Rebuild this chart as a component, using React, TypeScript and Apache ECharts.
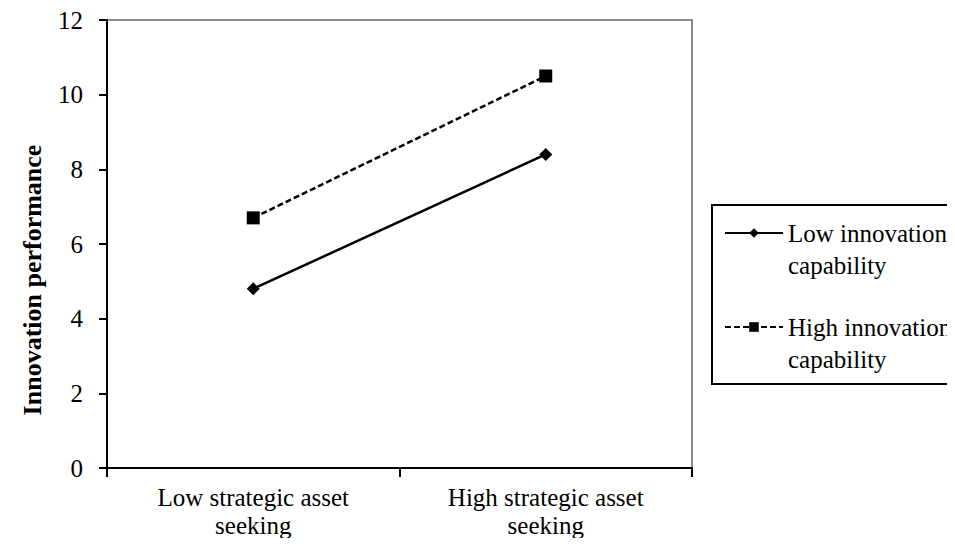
import React, { useEffect, useRef } from "react";
import * as echarts from "echarts";

const categories = ["Low strategic asset\nseeking", "High strategic asset\nseeking"];
const lowCapability = [4.8, 8.4];
const highCapability = [6.7, 10.5];
const seriesNames = ["Low innovation capability", "High innovation capability"];
const legendLines: Record<string, string> = {
  "Low innovation capability": " \nLow innovation\ncapability",
  "High innovation capability": " \nHigh innovation\ncapability",
};

const FONT = "Liberation Serif, Times New Roman, serif";

export default function App() {
  const ref = useRef<HTMLDivElement>(null);
  useEffect(() => {
    if (!ref.current) return;
    const chart = echarts.init(ref.current, undefined, { renderer: "svg" });
    chart.setOption({
      animation: false,
      backgroundColor: "#fff",
      grid: {
        left: 107,
        top: 20,
        right: 263,
        bottom: 78,
        show: true,
        borderColor: "#8a8a8a",
        borderWidth: 2,
      },
      xAxis: {
        type: "category",
        data: categories,
        boundaryGap: true,
        axisLine: { lineStyle: { color: "#000", width: 2 } },
        axisTick: { show: true, length: 9, inside: false, lineStyle: { color: "#000", width: 2 } },
        axisLabel: { color: "#000", fontFamily: FONT, fontSize: 25, lineHeight: 28, margin: 15 },
        splitLine: { show: false },
      },
      yAxis: {
        type: "value",
        min: 0,
        max: 12,
        interval: 2,
        name: "Innovation performance",
        nameLocation: "middle",
        nameRotate: 90,
        nameGap: 62,
        nameTextStyle: {
          color: "#000",
          fontFamily: FONT,
          fontSize: 26,
          fontWeight: "bold",
          padding: [0, 72, 0, 0],
        },
        axisLine: { show: true, lineStyle: { color: "#000", width: 2 } },
        axisTick: { show: true, length: 8, lineStyle: { color: "#000", width: 2 } },
        axisLabel: { color: "#000", fontFamily: FONT, fontSize: 25, margin: 24 },
        splitLine: { show: false },
      },
      legend: {
        orient: "vertical",
        left: 724,
        top: 185,
        padding: 0,
        itemGap: -2,
        itemWidth: 58,
        itemHeight: 12,
        data: seriesNames,
        formatter: (name: string) => legendLines[name] || name,
        textStyle: {
          color: "#000",
          fontFamily: FONT,
          fontSize: 25,
          lineHeight: 32,
        },
      },
      graphic: [
        {
          type: "rect",
          shape: { x: 712, y: 205, width: 260, height: 179 },
          style: { fill: "none", stroke: "#000", lineWidth: 2 },
          silent: true,
        },
      ],
      series: [
        {
          name: seriesNames[0],
          type: "line",
          data: lowCapability,
          symbol: "diamond",
          symbolSize: 13,
          lineStyle: { color: "#000", width: 2.5, type: "solid" },
          itemStyle: { color: "#000" },
        },
        {
          name: seriesNames[1],
          type: "line",
          data: highCapability,
          symbol: "rect",
          symbolSize: 13,
          lineStyle: { color: "#000", width: 2.5, type: [6, 3] },
          itemStyle: { color: "#000" },
        },
      ],
    });
    return () => chart.dispose();
  }, []);
  return <div ref={ref} style={{ width: 955, height: 546, margin: -8 }} />;
}
